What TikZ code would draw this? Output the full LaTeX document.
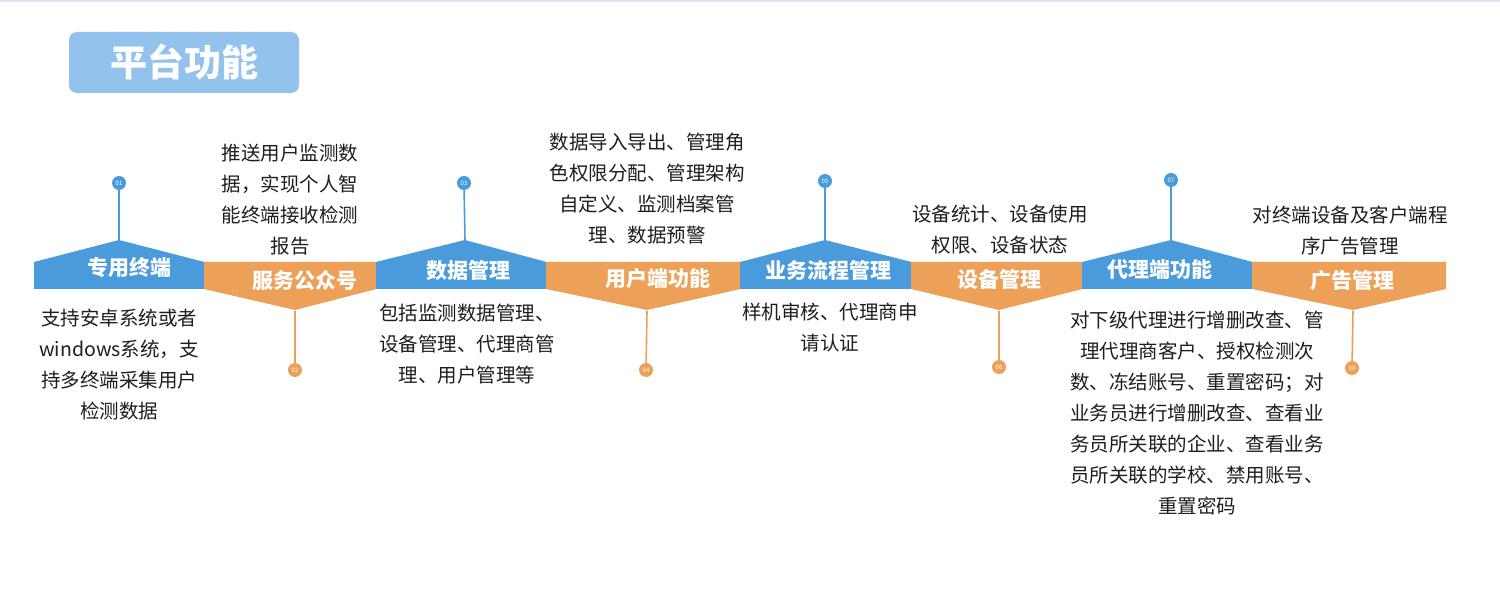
\documentclass[tikz,border=0pt]{standalone}
\usepackage{fontspec}
\setmainfont{Noto Sans CJK SC}
\definecolor{segblue}{RGB}{74,155,219}
\definecolor{segorange}{RGB}{236,160,88}
\definecolor{titlebg}{RGB}{147,195,236}
\definecolor{topline}{RGB}{214,230,245}
\definecolor{desctext}{RGB}{30,30,30}
\begin{document}
\begin{tikzpicture}[x=1pt,y=-1pt,
  lbl/.style={text=white,font=\fontsize{21}{21}\selectfont\bfseries,inner sep=0pt},
  dsc/.style={text=desctext,font=\fontsize{19.5}{31}\selectfont,align=center,inner sep=0pt},
  numdot/.style={circle,minimum size=14pt,inner sep=0pt,text=white,font=\fontsize{6}{6}\selectfont},
  bluedot/.style={numdot,fill=segblue},
  orangedot/.style={numdot,fill=segorange},
  bluestem/.style={draw=segblue,line width=1.6pt},
  orangestem/.style={draw=segorange,line width=1.6pt},
  titlebox/.style={fill=titlebg,rounded corners=8pt,text=white,font=\fontsize{37}{37}\selectfont\bfseries,minimum width=230pt,minimum height=61pt,inner sep=0pt}
]
\useasboundingbox (0,0) rectangle (1500,601);
\fill[white] (0,0) rectangle (1500,601);
\fill[topline] (0,0) rectangle (1500,2);

% title
\node[titlebox] (title) at (184,62.5) {平台功能};

% banner segments
\def\ytop{262}\def\ybot{289}\def\ypeak{240}\def\ypoint{310}
\newcommand{\bluesegment}[3]{\fill[segblue] (#1,\ytop) -- (#3,\ypeak) -- (#2,\ytop) -- (#2,\ybot) -- (#1,\ybot) -- cycle;}
\newcommand{\orangesegment}[3]{\fill[segorange] (#1,\ytop) -- (#2,\ytop) -- (#2,\ybot) -- (#3,\ypoint) -- (#1,\ybot) -- cycle;}
\bluesegment{34}{204.5}{119}
\orangesegment{204}{376.5}{295}
\bluesegment{376}{546.5}{465}
\orangesegment{546}{740.5}{647}
\bluesegment{740}{911.5}{825}
\orangesegment{911}{1082.5}{999}
\bluesegment{1082}{1252.5}{1171}
\orangesegment{1252}{1446}{1353}

% peak / point coordinates
\coordinate (p1) at (119,241);
\coordinate (p2) at (295,311);
\coordinate (p3) at (465,241);
\coordinate (p4) at (647,311);
\coordinate (p5) at (825,241);
\coordinate (p6) at (999,311);
\coordinate (p7) at (1171,241);
\coordinate (p8) at (1353,311);

% number dots
\node[bluedot] (c1) at (119,183) {01};
\node[orangedot] (c2) at (295,370) {02};
\node[bluedot] (c3) at (464,183) {03};
\node[orangedot] (c4) at (646,370) {04};
\node[bluedot] (c5) at (825,181) {05};
\node[orangedot] (c6) at (999,367) {06};
\node[bluedot] (c7) at (1171,180) {07};
\node[orangedot] (c8) at (1352,368) {08};

% stems
\draw[bluestem] (c1) -- (p1);
\draw[orangestem] (p2) -- (c2);
\draw[bluestem] (c3) -- (p3);
\draw[orangestem] (p4) -- (c4);
\draw[bluestem] (c5) -- (p5);
\draw[orangestem] (p6) -- (c6);
\draw[bluestem] (c7) -- (p7);
\draw[orangestem] (p8) -- (c8);

% labels
\node[lbl] (l1) at (129,268) {专用终端};
\node[lbl] (l2) at (305,280) {服务公众号};
\node[lbl] (l3) at (468,270) {数据管理};
\node[lbl] (l4) at (658,279) {用户端功能};
\node[lbl] (l5) at (828,270) {业务流程管理};
\node[lbl] (l6) at (999,279) {设备管理};
\node[lbl] (l7) at (1160,270) {代理端功能};
\node[lbl] (l8) at (1352,281) {广告管理};

% descriptions
\node[dsc] (d1) at (119,365) {支持安卓系统或者\\windows系统，支\\持多终端采集用户\\检测数据};
\node[dsc] (d2) at (290,200) {推送用户监测数\\据，实现个人智\\能终端接收检测\\报告};
\node[dsc] (d3) at (467,344.5) {包括监测数据管理、\\设备管理、代理商管\\理、用户管理等};
\node[dsc] (d4) at (647,189) {数据导入导出、管理角\\色权限分配、管理架构\\自定义、监测档案管\\理、数据预警};
\node[dsc] (d5) at (830,327.5) {样机审核、代理商申\\请认证};
\node[dsc] (d6) at (1000,229.5) {设备统计、设备使用\\权限、设备状态};
\node[dsc] (d7) at (1197,413.5) {对下级代理进行增删改查、管\\理代理商客户、授权检测次\\数、冻结账号、重置密码；对\\业务员进行增删改查、查看业\\务员所关联的企业、查看业务\\员所关联的学校、禁用账号、\\重置密码};
\node[dsc] (d8) at (1350,231) {对终端设备及客户端程\\序广告管理};
\end{tikzpicture}
\end{document}
